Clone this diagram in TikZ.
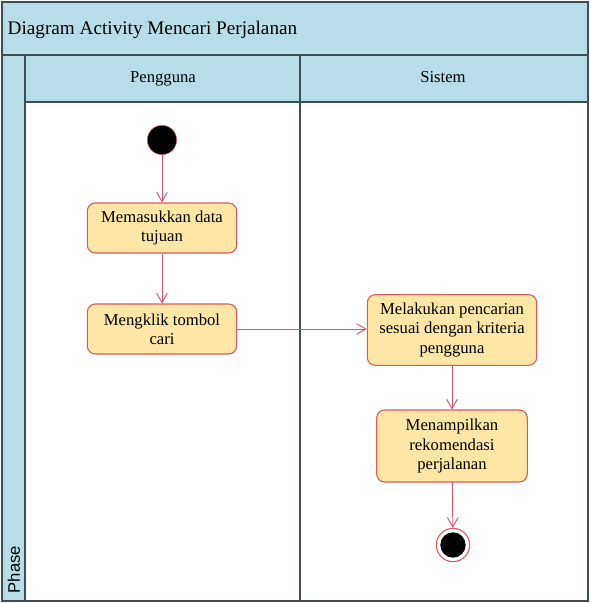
\documentclass[tikz,border=0pt]{standalone}
\usepackage{fontspec}
\setmainfont{Liberation Serif}
\setsansfont{Liberation Sans}
\definecolor{LaneBlue}{HTML}{B7DDE8}
\definecolor{LaneLine}{HTML}{3E4E55}
\definecolor{ActFill}{HTML}{FDE6A6}
\definecolor{ActLine}{HTML}{DC5A5A}
\definecolor{FlowRed}{HTML}{D4566A}
\usetikzlibrary{arrows.meta,positioning,calc}

\begin{document}
\begin{tikzpicture}[
    x=0.75pt, y=-0.75pt,
    lane/.style={draw=LaneLine, line width=1pt},
    act/.style={draw=ActLine, fill=ActFill, rounded corners=6pt, align=center,
      font=\fontsize{12.5}{14.5}\selectfont, inner sep=2pt, line width=0.8pt},
    arr/.style={-{Straight Barb[length=7pt,width=8pt]}, FlowRed, line width=0.7pt}
  ]
    \useasboundingbox (0,0) rectangle (591,603);
    % swimlanes
    \fill[white] (2,2) rectangle (588,601);
    \fill[LaneBlue] (2,2) rectangle (588,55);
    \fill[LaneBlue] (2,55) rectangle (25,601);
    \fill[LaneBlue] (25,55) rectangle (588,102);
    \draw[lane] (2,2) rectangle (588,601);
    \draw[lane] (2,55) -- (588,55);
    \draw[lane] (25,55) -- (25,601);
    \draw[lane] (25,102) -- (588,102);
    \draw[lane] (300,55) -- (300,601);
    \node[anchor=base west, font=\fontsize{14.4}{17}\selectfont] (title) at (3,34) {Diagram Activity Mencari Perjalanan};
    \node[anchor=base, font=\fontsize{12.5}{14}\selectfont] (pengguna) at (163,82) {Pengguna};
    \node[anchor=base, font=\fontsize{12.5}{14}\selectfont] (sistem) at (443,82) {Sistem};
    \node[rotate=90, anchor=west, font=\sffamily\fontsize{12.5}{14}\selectfont] (phase) at (14,598) {Phase};

    % activities
    \node[circle, fill=black, draw=ActLine, minimum size=22pt, inner sep=0pt] (start) at (162,140) {};
    \node[act, minimum width=112pt, minimum height=37.5pt] (masuk) at (162,228) {Memasukkan data\\tujuan};
    \node[act, minimum width=112pt, minimum height=37.5pt] (klik) at (162,329) {Mengklik tombol\\cari};
    \node[act, minimum width=127pt, minimum height=53pt] (cari) at (452,330) {Melakukan pencarian\\sesuai dengan kriteria\\pengguna};
    \node[act, minimum width=113pt, minimum height=54pt] (tampil) at (452,446) {Menampilkan\\rekomendasi\\perjalanan};
    \node[circle, draw=ActLine, fill=white, minimum size=25pt, inner sep=0pt, line width=0.8pt] (end) at (453,545) {};
    \node[circle, fill=black, minimum size=19pt, inner sep=0pt] (endin) at (end) {};

    \draw[arr] (start) -- (masuk);
    \draw[arr] (masuk) -- (klik);
    \draw[arr] (klik.east) -- (klik.east -| cari.west);
    \draw[arr] (cari) -- (tampil);
    \draw[arr] (tampil) -- (end);
  \end{tikzpicture}
\end{document}
